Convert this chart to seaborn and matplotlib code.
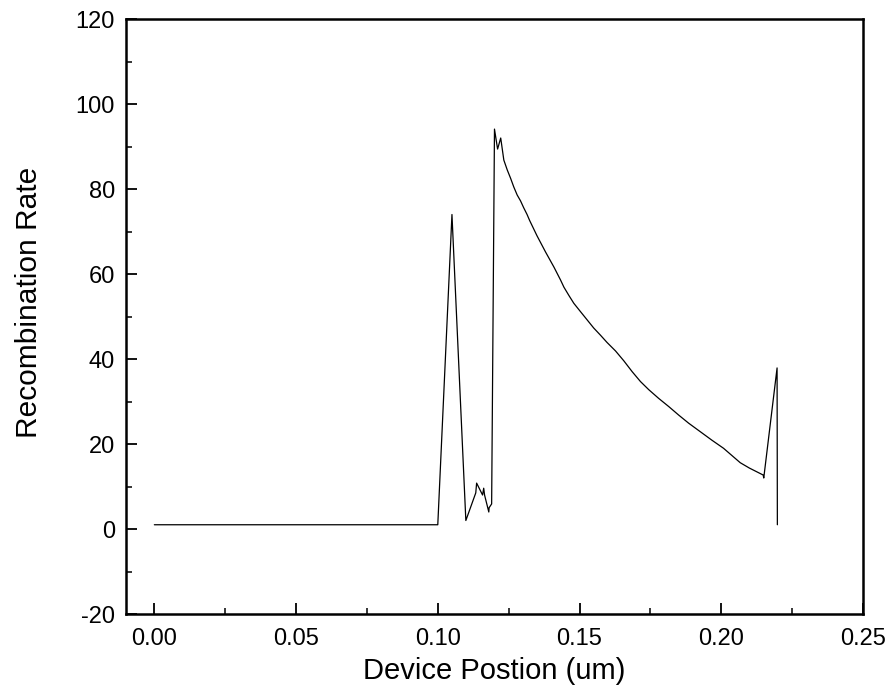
import matplotlib
matplotlib.use("Agg")
import matplotlib.pyplot as plt
import seaborn as sns
import pandas as pd
from matplotlib.ticker import MultipleLocator

# Data
position = [0.000, 0.100, 0.105, 0.1099, 0.1134, 0.1137, 0.1158, 0.1162, 0.1165,
            0.1180, 0.1181, 0.1190, 0.1200, 0.1211, 0.1222, 0.1233, 0.1245,
            0.1257, 0.1268, 0.1280, 0.1292, 0.1303, 0.1315, 0.1324, 0.1350,
            0.1380, 0.1410, 0.1433, 0.1445, 0.1463, 0.1480, 0.1504, 0.1527,
            0.1550, 0.1574, 0.1597, 0.1627, 0.1656, 0.1686, 0.1715, 0.1744,
            0.1779, 0.1815, 0.1850, 0.1885, 0.1926, 0.1967, 0.2008, 0.2067,
            0.2099, 0.2148, 0.2150, 0.2197, 0.2198]
rate = [1.0, 1.0, 74.0, 2.0, 8.5, 10.8, 8.0, 9.6, 8.0,
        4.0, 5.0, 5.9, 94.1, 89.4, 92.0, 86.8, 84.5,
        82.5, 80.5, 78.6, 77.2, 75.6, 74.0, 72.6, 69.0,
        65.2, 61.6, 58.6, 56.9, 54.9, 53.1, 51.1, 49.2,
        47.3, 45.6, 43.9, 41.9, 39.6, 37.0, 34.7, 32.8,
        30.75, 28.8, 26.8, 24.9, 22.9, 20.9, 19.0, 15.6,
        14.35, 12.7, 12.0, 37.9, 1.0]

x_ticks = [0.00, 0.05, 0.10, 0.15, 0.20, 0.25]
y_ticks = [-20, 0, 20, 40, 60, 80, 100, 120]

df = pd.DataFrame({"pos": position, "rate": rate})

sns.set_theme(style="ticks")
plt.rcParams["font.family"] = ["Liberation Sans", "DejaVu Sans"]
plt.rcParams["axes.unicode_minus"] = False
plt.rcParams["text.color"] = "black"
plt.rcParams["axes.labelcolor"] = "black"

fig = plt.figure(figsize=(8.86, 6.99), dpi=100)
ax = fig.add_axes([0.1422, 0.1216, 0.9740 - 0.1422, 0.9728 - 0.1216])

sns.lineplot(data=df, x="pos", y="rate", sort=False, estimator=None,
             color="black", linewidth=0.9, ax=ax)

ax.set_xlim(-0.01, 0.25)
ax.set_ylim(-20, 120)
ax.set_xticks(x_ticks)
ax.set_xticklabels([f"{t:.2f}" for t in x_ticks])
ax.set_yticks(y_ticks)
ax.set_yticklabels([str(t) for t in y_ticks])
ax.xaxis.set_minor_locator(MultipleLocator(0.025))
ax.yaxis.set_minor_locator(MultipleLocator(10))

ax.tick_params(axis="both", which="major", direction="in", length=8, width=1.3,
               labelsize=17, colors="black")
ax.tick_params(axis="x", which="major", pad=10)
ax.tick_params(axis="y", which="major", pad=8)
ax.tick_params(axis="both", which="minor", direction="in", length=4, width=1.3)
ax.tick_params(top=False, right=False, which="both")

for s in ax.spines.values():
    s.set_linewidth(1.8)
    s.set_color("black")
    s.set_visible(True)

ax.set_xlabel("Device Postion (um)", fontsize=21, labelpad=5, color="black")
ax.set_ylabel("Recombination Rate", fontsize=21.5, color="black")
ax.yaxis.set_label_coords(-0.112, 0.524)

fig.savefig("out.png", dpi=100, facecolor="white")
